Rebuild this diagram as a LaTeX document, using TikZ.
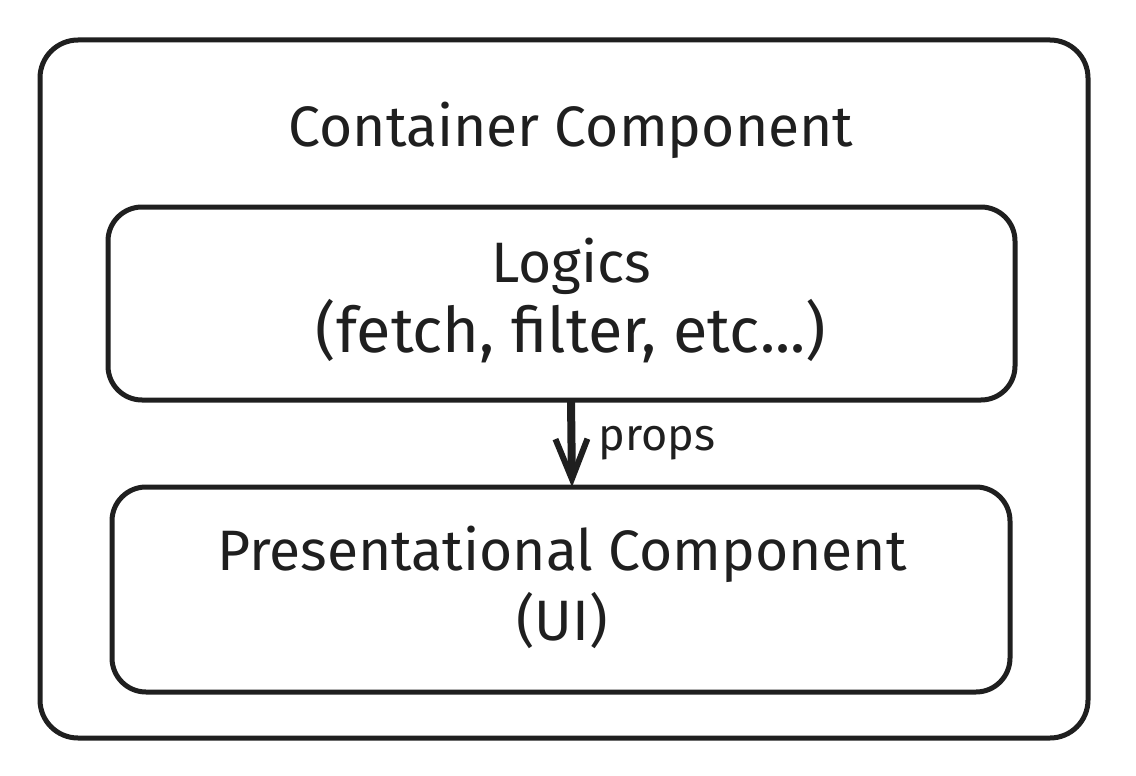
\documentclass[tikz,border=0pt]{standalone}
\usepackage{fontspec}
\setmainfont{Fira Sans}
\usetikzlibrary{arrows.meta}
\tikzset{
  box/.style={draw=black!88, line width=5pt, rounded corners=38pt},
  lbl/.style={inner sep=0pt, text=black!88, font=\fontsize{57}{70}\selectfont, align=center},
  small/.style={inner sep=0pt, text=black!88, font=\fontsize{45}{50}\selectfont},
}
\begin{document}
\begin{tikzpicture}[x=1pt,y=-1pt]
\useasboundingbox (0,0) rectangle (1136,776);
\draw[box] (40,40) rectangle (1088,738);
\draw[box, rounded corners=34pt] (108,207) rectangle (1015,400);
\draw[box, rounded corners=34pt] (112,487) rectangle (1010,692);
\coordinate (top) at (571,400);
\coordinate (bot) at (572,487);
\node[lbl] (title) at (571,130) {Container Component};
\node[lbl] (logics) at (571,300) {Logics\\{\fontsize{63}{70}\selectfont (fetch, filter, etc...)}};
\node[lbl] (pres) at (562,587) {Presentational Component\\(UI)};
\draw[line width=8pt, draw=black!88, -{Straight Barb[length=40pt,width=32pt,line width=6pt]}] (top) -- (bot);
\node[small] (props) at (657,443) {props};
\end{tikzpicture}
\end{document}
